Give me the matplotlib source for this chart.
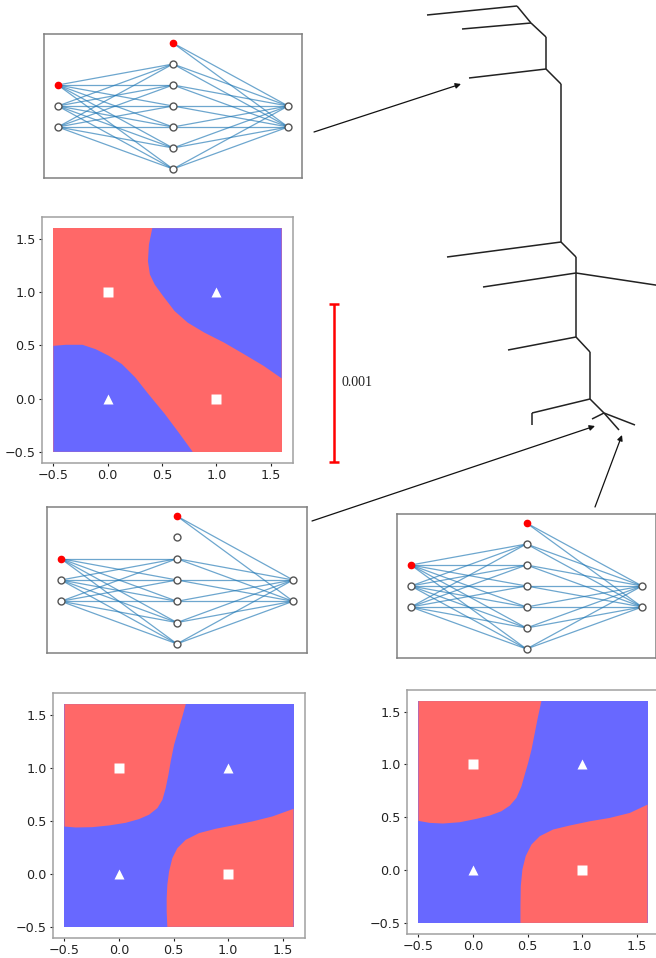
import matplotlib
matplotlib.use("Agg")
import matplotlib.pyplot as plt

W, H = 656, 958

# network layout: first node of input and hidden layer is the bias node
input_y = [4, 3, 2]
hidden_y = [6, 5, 4, 3, 2, 1, 0]
output_y = [3, 2]

# XOR training points
sq_x, sq_y = [0, 1], [1, 0]
tri_x, tri_y = [0, 1], [0, 1]
grid_lo, grid_hi = -0.5, 1.6
ticks = [-0.5, 0.0, 0.5, 1.0, 1.5]

# decision regions (boundaries)
net1_blue_top = [(0.41, 1.6), (0.379, 1.446), (0.37, 1.29), (0.388, 1.165), (0.433, 1.07),
                 (0.509, 0.963), (0.615, 0.822), (0.736, 0.713), (0.888, 0.62), (1.07, 0.526),
                 (1.252, 0.418), (1.433, 0.308), (1.6, 0.19), (1.6, 1.6)]
net1_blue_bot = [(-0.5, 0.495), (-0.385, 0.505), (-0.233, 0.505), (-0.112, 0.464),
                 (0.009, 0.402), (0.13, 0.324), (0.252, 0.2), (0.373, 0.044),
                 (0.524, -0.143), (0.661, -0.33), (0.782, -0.5), (-0.5, -0.5)]

net2_red_top = [(-0.5, 0.446), (-0.398, 0.437), (-0.245, 0.44), (-0.092, 0.456), (0.061, 0.481),
                (0.183, 0.516), (0.275, 0.557), (0.352, 0.62), (0.398, 0.698), (0.428, 0.808),
                (0.453, 0.934), (0.474, 1.06), (0.505, 1.217), (0.55, 1.374), (0.581, 1.484),
                (0.612, 1.6), (-0.5, 1.6)]
net2_red_bot = [(0.443, -0.5), (0.437, -0.355), (0.437, -0.23), (0.443, -0.104), (0.459, 0.022),
                (0.489, 0.148), (0.535, 0.242), (0.612, 0.321), (0.734, 0.384), (0.887, 0.425),
                (1.04, 0.456), (1.223, 0.494), (1.406, 0.541), (1.6, 0.613), (1.6, -0.5)]

net3_red_top = [(-0.5, 0.466), (-0.397, 0.447), (-0.275, 0.441), (-0.122, 0.453), (0.031, 0.485),
                (0.153, 0.516), (0.26, 0.557), (0.337, 0.61), (0.398, 0.683), (0.444, 0.792),
                (0.474, 0.903), (0.505, 1.013), (0.536, 1.139), (0.566, 1.296), (0.596, 1.453),
                (0.627, 1.6), (-0.5, 1.6)]
net3_red_bot = [(0.435, -0.5), (0.435, -0.34), (0.438, -0.151), (0.453, 0.007), (0.483, 0.132),
                (0.536, 0.242), (0.612, 0.321), (0.734, 0.384), (0.887, 0.422), (1.07, 0.462),
                (1.254, 0.494), (1.437, 0.541), (1.6, 0.62), (1.6, -0.5)]

# tree drawn in figure pixels
tree_x = [427, 517, 531, 462, 546, 546, 469, 561, 561, 447, 576, 576, 483, 662,
          576, 508, 590, 590, 532, 532, 604, 592, 619, 635]
tree_y = [15, 6, 23, 29, 37, 69, 78, 84, 242, 257, 257, 273, 287, 286,
          337, 350, 352, 399, 413, 425, 413, 419, 430, 425]
tree_edges = [(0, 1), (1, 2), (3, 2), (2, 4), (4, 5), (6, 5), (5, 7), (7, 8), (9, 8),
              (8, 10), (10, 11), (12, 11), (11, 13), (11, 14), (15, 14), (14, 16),
              (16, 17), (18, 17), (18, 19), (17, 20), (20, 21), (20, 22), (20, 23)]

arrows = [((314, 132), (461, 84)), ((312, 521), (595, 426)), ((595, 507), (622, 435))]

RED = "#ff6868"
BLUE = "#6868ff"
EDGE = "#1f77b4"


def px_axes(fig, x0, y0, x1, y1):
    return fig.add_axes([x0 / W, 1 - y1 / H, (x1 - x0) / W, (y1 - y0) / H])


def draw_net(ax, pruned=()):
    hid = [i for i in range(len(hidden_y)) if i not in pruned]
    for yi in input_y:
        for j in hid:
            if j == 0:
                continue
            ax.plot([0, 1], [yi, hidden_y[j]], color=EDGE, lw=0.9, alpha=0.65)
    for j in hid:
        for yo in output_y:
            ax.plot([1, 2], [hidden_y[j], yo], color=EDGE, lw=0.9, alpha=0.65)
    for x, ys in ((0, input_y), (1, hidden_y), (2, output_y)):
        for k, y in enumerate(ys):
            if k == 0 and x < 2:
                ax.plot(x, y, "o", ms=4.5, color="red", zorder=5)
            else:
                ax.plot(x, y, "o", ms=5, mfc="white", mec="#555555", mew=1, zorder=5)
    ax.set_xlim(-0.12, 2.12)
    ax.set_ylim(-0.43, 6.43)
    ax.set_xticks([])
    ax.set_yticks([])
    for s in ax.spines.values():
        s.set_color("#808080")
        s.set_linewidth(1.1)


def draw_region(ax, bg, fg, polys):
    ax.fill([grid_lo, grid_hi, grid_hi, grid_lo], [grid_lo, grid_lo, grid_hi, grid_hi],
            color=bg, lw=0)
    for p in polys:
        ax.fill([v[0] for v in p], [v[1] for v in p], color=fg, lw=0)
    ax.plot(sq_x, sq_y, "s", color="white", ms=6.5, mec="none")
    ax.plot(tri_x, tri_y, "^", color="white", ms=6.5, mec="none")
    ax.set_xlim(-0.605, 1.705)
    ax.set_ylim(-0.605, 1.705)
    ax.set_xticks(ticks)
    ax.set_yticks(ticks)
    ax.tick_params(labelsize=9.2, colors="#222222", length=2.5, width=0.8, pad=2)
    for s in ax.spines.values():
        s.set_color("#a0a0a0")
        s.set_linewidth(1.1)


fig = plt.figure(figsize=(W / 100, H / 100), dpi=100)

draw_net(px_axes(fig, 44, 34, 302, 178))
draw_net(px_axes(fig, 47, 507, 307, 653), pruned=(1,))
draw_net(px_axes(fig, 397, 514, 656, 658))

draw_region(px_axes(fig, 42, 217, 293, 463), RED, BLUE, [net1_blue_top, net1_blue_bot])
draw_region(px_axes(fig, 53, 693, 305, 938), BLUE, RED, [net2_red_top, net2_red_bot])
draw_region(px_axes(fig, 407, 690, 659, 934), BLUE, RED, [net3_red_top, net3_red_bot])

# overlay in pixel coordinates: tree, arrows, scale bar
ov = fig.add_axes([0, 0, 1, 1], zorder=10)
ov.set_xlim(0, W)
ov.set_ylim(H, 0)
ov.axis("off")
for a, b in tree_edges:
    ov.plot([tree_x[a], tree_x[b]], [tree_y[a], tree_y[b]], color="#222222", lw=1.1,
            solid_capstyle="butt")
for start, end in arrows:
    ov.annotate("", xy=end, xytext=start,
                arrowprops=dict(arrowstyle="-|>", color="#111111", lw=0.9,
                                mutation_scale=8, shrinkA=0, shrinkB=0))
ov.errorbar([334], [383], yerr=[79], color="red", lw=1.8, capsize=3.5, capthick=1.8)
ov.text(342, 382, "0.001", fontsize=10, family="Liberation Serif", va="center",
        color="#222222")

fig.savefig("out.png", dpi=100)
